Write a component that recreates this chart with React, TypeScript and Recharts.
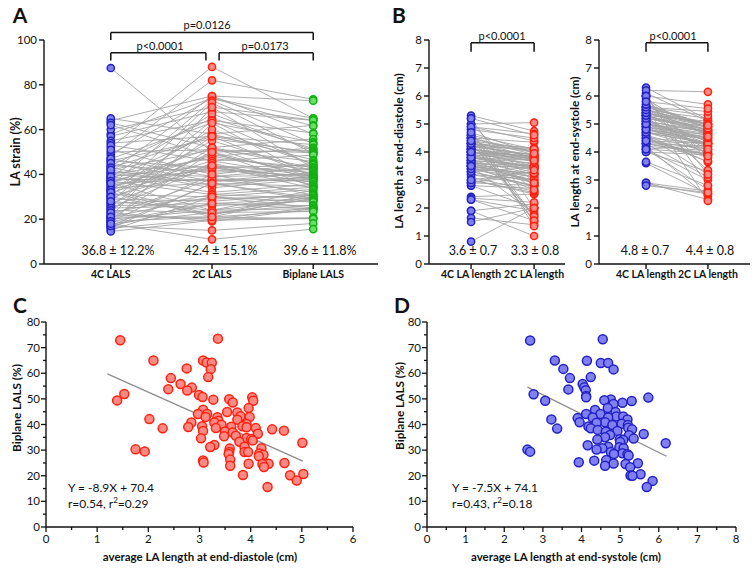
import React from "react";
import { ScatterChart, Scatter, XAxis, YAxis, ReferenceLine } from "recharts";

const FONT = "Lato, 'Open Sans', sans-serif";

// ---- Panel A: LA strain (%) per subject, 4C / 2C / biplane ----
const lalsLabels = ["4C LALS", "2C LALS", "Biplane LALS"];
const lals4C = [
  48, 64, 58, 52, 60, 57, 65, 49, 55, 41,
  63, 47, 35, 54, 62, 44, 39, 87.5, 46, 50,
  30, 43, 53, 38, 42, 51, 33, 46, 28, 40,
  36, 47, 21, 44, 37, 31, 45, 39, 34, 41,
  26, 37, 43, 33, 29, 40, 35, 18, 42, 32,
  38, 24, 36, 30, 39, 27, 34, 20, 37, 25,
  31, 36, 22, 29, 33, 19, 27, 32, 17, 26,
  30, 23, 28, 16, 25, 21, 24, 19, 22, 15,
  20, 23, 17, 21, 18, 16, 14.5, 19, 17, 18,
];
const lals2C = [
  82, 75, 74, 88, 70, 68, 58, 74, 64, 75,
  52, 63, 73, 57, 48, 65, 67, 50, 56, 51,
  72, 57, 46, 58, 51, 40, 60, 43, 64, 47,
  52, 39, 70, 41, 48, 55, 37, 44, 49, 39,
  57, 42, 35, 46, 50, 37, 43, 63, 34, 44,
  37, 52, 38, 43, 32, 45, 36, 50, 31, 44,
  30, 24, 38, 28, 22, 40, 29, 21, 36, 27,
  22, 31, 24, 36, 26, 30, 23, 27, 20, 30,
  24, 19, 27, 21, 23, 20, 19.5, 21, 15, 11,
];
// biplane LALS (also y of panel C)
const lalsBiplane = [
  73.5, 72.9, 65.0, 65.0, 64.2, 64.1, 61.9, 61.6, 58.5, 58.1,
  55.8, 54.4, 53.8, 53.3, 51.9, 51.5, 50.7, 50.6, 49.9, 49.7,
  49.4, 49.3, 48.6, 46.4, 45.8, 44.9, 44.7, 44.1, 44.1, 43.2,
  42.9, 42.9, 42.8, 42.1, 41.9, 41.5, 40.8, 40.8, 40.2, 39.9,
  39.3, 39.3, 39.1, 39.0, 38.9, 38.6, 38.6, 38.5, 38.1, 37.6,
  37.5, 37.3, 36.9, 36.4, 35.6, 35.4, 34.7, 34.6, 34.3, 33.8,
  33.3, 32.9, 32.0, 31.3, 31.2, 30.7, 30.6, 30.3, 29.5, 29.3,
  29.3, 29.3, 28.7, 28.5, 28.2, 27.6, 26.3, 26.0, 25.2, 25.0,
  24.7, 24.7, 24.6, 23.9, 23.4, 20.7, 20.3, 20.2, 18.1, 15.6,
];
const lalsMeans = ["36.8 ± 12.2%", "42.4 ± 15.1%", "39.6 ± 11.8%"];

// ---- Panel B: LA length (cm) ----
const lenLabels = ["4C LA length", "2C LA length"];
const ed4C = [
  3.5, 1.9, 2.3, 3.3, 3.0, 3.6, 2.8, 3.4, 2.9, 2.4,
  3.5, 3.1, 2.8, 3.0, 1.65, 3.2, 2.9, 4.2, 3.7, 3.5,
  0.8, 4.3, 3.9, 4.1, 3.3, 3.6, 4.0, 4.4, 3.4, 3.9,
  3.2, 4.3, 3.6, 1.9, 3.8, 3.3, 2.9, 3.5, 4.0, 3.7,
  4.6, 3.9, 3.8, 3.0, 4.1, 4.4, 3.4, 2.35, 4.5, 4.9,
  4.5, 3.6, 3.8, 4.3, 3.8, 3.5, 4.0, 4.3, 4.1, 4.2,
  4.0, 5.3, 3.7, 4.0, 4.7, 4.5, 3.7, 1.5, 2.3, 3.9,
  4.1, 4.1, 4.3, 3.8, 4.5, 4.2, 4.6, 4.8, 3.5, 4.8,
  5.0, 4.6, 4.3, 5.2, 4.4, 5.0, 4.0, 4.9, 5.2, 4.7,
];
const ed2C = [
  3.2, 1.0, 1.9, 2.8, 3.3, 2.9, 2.7, 3.0, 3.4, 2.5,
  1.8, 2.6, 2.0, 2.5, 1.4, 2.8, 3.2, 3.9, 3.5, 3.0,
  2.0, 3.8, 3.4, 3.8, 2.8, 3.5, 3.5, 1.55, 2.9, 3.7,
  3.0, 3.7, 3.1, 2.15, 3.7, 3.45, 2.8, 3.1, 3.85, 3.2,
  1.5, 3.8, 3.45, 2.55, 3.75, 3.8, 3.25, 2.2, 4.35, 4.4,
  1.65, 3.4, 3.5, 4.0, 3.6, 3.45, 3.85, 1.75, 3.9, 3.9,
  3.55, 4.75, 2.9, 3.75, 1.7, 3.9, 3.5, 2.0, 1.55, 3.25,
  3.65, 3.8, 4.05, 3.35, 4.0, 4.1, 2.6, 1.35, 2.65, 4.5,
  2.9, 4.1, 4.15, 2.0, 4.1, 5.05, 3.7, 4.65, 4.6, 3.95,
];
const edMeans = ["3.6 ± 0.7", "3.3 ± 0.8"];
const es4C = [
  4.8, 2.85, 4.2, 4.5, 4.7, 5.0, 4.1, 5.0, 4.4, 4.3,
  4.1, 4.5, 4.0, 4.3, 2.9, 4.6, 4.2, 6.3, 5.1, 4.9,
  3.6, 5.6, 5.2, 5.3, 4.8, 4.4, 5.0, 4.7, 4.3, 5.1,
  5.4, 4.6, 4.9, 4.6, 3.65, 5.4, 4.0, 4.7, 4.5, 5.2,
  5.0, 5.5, 4.1, 5.3, 4.3, 4.1, 5.6, 4.9, 5.1, 4.8,
  6.1, 4.9, 5.5, 5.0, 5.5, 5.3, 4.7, 5.5, 5.2, 6.2,
  4.4, 5.1, 5.3, 4.8, 5.4, 6.0, 2.9, 2.8, 5.0, 5.3,
  6.0, 5.4, 5.9, 5.2, 5.3, 5.6, 5.6, 5.8, 5.4, 6.0,
  5.5, 5.6, 5.7, 5.7, 6.0, 5.8,
];
const es2C = [
  4.3, 2.5, 2.4, 3.8, 4.3, 4.4, 3.0, 4.65, 4.1, 3.1,
  3.95, 3.65, 3.3, 3.9, 2.6, 3.65, 4.05, 5.15, 4.4, 4.3,
  2.5, 5.0, 4.9, 4.35, 4.55, 4.3, 4.75, 4.3, 3.95, 4.7,
  4.75, 4.0, 4.5, 3.2, 2.8, 5.0, 3.9, 4.5, 4.3, 4.9,
  4.6, 4.9, 4.25, 5.1, 4.2, 2.65, 5.0, 3.95, 4.75, 4.45,
  5.1, 4.6, 4.95, 4.2, 5.2, 4.7, 4.1, 4.65, 4.8, 6.15,
  3.9, 4.3, 4.65, 4.3, 4.8, 2.8, 2.3, 2.55, 4.5, 4.8,
  3.7, 5.0, 4.55, 4.1, 3.35, 2.25, 5.3, 3.85, 4.9, 3.2,
  5.0, 5.45, 4.85, 4.95, 5.7, 5.55,
];
const esMeans = ["4.8 ± 0.7", "4.4 ± 0.8"];

// ---- Panel C: average ED length vs biplane LALS ----
const edAvg = [
  3.36, 1.45, 2.10, 3.07, 3.14, 3.24, 2.75, 3.22, 3.17, 2.44,
  2.63, 2.85, 2.39, 2.76, 1.53, 2.99, 3.06, 4.03, 3.58, 3.27,
  1.39, 4.05, 3.65, 3.96, 3.07, 3.54, 3.74, 2.97, 3.15, 3.80,
  3.12, 3.98, 3.35, 2.02, 3.74, 3.37, 2.84, 3.29, 3.92, 3.43,
  3.05, 3.84, 3.62, 2.78, 3.92, 4.10, 3.32, 2.28, 4.42, 4.65,
  3.07, 3.50, 3.65, 4.14, 3.71, 3.48, 3.92, 3.03, 4.01, 4.04,
  3.78, 5.01, 3.29, 3.88, 3.21, 4.21, 3.59, 1.75, 1.93, 3.58,
  3.88, 3.95, 4.17, 3.57, 4.25, 4.16, 3.60, 3.07, 3.08, 4.66,
  3.96, 4.35, 4.23, 3.60, 4.26, 5.03, 3.85, 4.77, 4.90, 4.33,
];
const fitC = { slope: -8.9, intercept: 70.4, from: 1.2, to: 5.02 };

// ---- Panel D: average ES length vs biplane LALS ----
const esAvg = [
  4.55, 2.67, 3.31, 4.14, 4.50, 4.69, 3.53, 4.83, 4.24, 3.70,
  4.03, 4.07, 3.66, 4.11, 2.76, 4.12, 4.12, 5.73, 4.76, 4.59,
  3.06, 5.30, 5.06, 4.83, 4.68, 4.35, 4.88, 4.49, 4.12, 4.90,
  5.08, 4.29, 4.69, 3.90, 3.22, 5.19, 3.95, 4.61, 4.39, 5.04,
  4.80, 5.20, 4.18, 5.21, 4.24, 3.37, 5.31, 4.42, 4.93, 4.63,
  5.61, 4.74, 5.23, 4.61, 5.35, 4.99, 4.41, 5.08, 5.00, 6.18,
  4.16, 4.69, 4.98, 4.54, 5.09, 4.39, 2.60, 2.67, 4.76, 5.06,
  4.84, 5.19, 5.22, 4.64, 4.33, 3.93, 5.46, 4.83, 5.14, 4.61,
  5.26, 5.53, 5.27, 5.32, 5.84, 5.69,
];
const esBiplane = [
  73.3, 72.8, 65.0, 64.9, 64.0, 64.0, 61.7, 61.5, 58.5, 58.1,
  55.8, 54.5, 53.7, 53.4, 51.8, 51.1, 50.6, 50.5, 49.8, 49.5,
  49.3, 49.2, 48.5, 48.0, 46.4, 45.7, 44.9, 44.1, 44.1, 43.1,
  43.1, 42.7, 42.7, 42.5, 42.0, 42.0, 40.9, 40.9, 40.7, 40.3,
  39.8, 39.8, 39.2, 38.7, 38.5, 38.4, 38.1, 37.9, 37.5, 37.2,
  36.3, 35.9, 35.8, 35.0, 34.5, 34.2, 34.1, 34.0, 33.2, 32.7,
  31.9, 31.3, 31.1, 30.7, 30.7, 30.2, 30.2, 29.4, 29.3, 28.8,
  28.5, 28.4, 27.9, 26.1, 25.9, 25.3, 24.9, 24.8, 24.6, 23.9,
  23.3, 20.6, 20.1, 20.0, 18.0, 15.6,
];
const fitD = { slope: -7.5, intercept: 74.1, from: 2.6, to: 6.2 };

const BLUE = { fill: "#8080f2", stroke: "#2222c4" };
const RED = { fill: "#ff8a84", stroke: "#ff2010" };
const GREEN = { fill: "#66e066", stroke: "#0fb20f" };
const LINE_GRAY = "#a4a4a4";

type Bracket = { x1: number; x2: number; y: number; leg: number };

function Txt({ x, y, children, size = 12, bold = false, rotate = false, anchor = "center" }: any) {
  const tx = anchor === "left" ? "0" : "-50%";
  return (
    <div
      style={{
        position: "absolute",
        left: x,
        top: y,
        transform: `translate(${tx},-50%)${rotate ? " rotate(-90deg)" : ""}`,
        transformOrigin: rotate ? "center" : undefined,
        fontFamily: FONT,
        fontSize: size,
        fontWeight: bold ? 700 : 400,
        color: "#111",
        whiteSpace: "nowrap",
        lineHeight: 1,
      }}
    >
      {children}
    </div>
  );
}

function dotShape(c: { fill: string; stroke: string }, r: number) {
  return (p: any) => <circle cx={p.cx} cy={p.cy} r={r} fill={c.fill} stroke={c.stroke} strokeWidth={1.5} />;
}

const hidden = () => <g />;

function PairedChart({ width, height, margin, yWidth, xDomain, yMax, yTicks, labels, columns, colors, brackets }: any) {
  const n = columns[0].length;
  const subjects = Array.from({ length: n }, (_, i) =>
    columns.map((col: number[], k: number) => ({ x: k, y: col[i] }))
  );
  return (
    <ScatterChart width={width} height={height} margin={margin}>
      <XAxis
        type="number"
        dataKey="x"
        domain={xDomain}
        ticks={labels.map((_: string, i: number) => i)}
        tickFormatter={(v: number) => labels[v]}
        interval={0}
        allowDataOverflow
        height={26}
        stroke="#111"
        strokeWidth={1.4}
        tickSize={5}
        tick={{ fontSize: 10.5, fontWeight: 700, fill: "#111", fontFamily: FONT }}
      />
      <YAxis
        type="number"
        dataKey="y"
        domain={[0, yMax]}
        ticks={yTicks}
        interval={0}
        allowDataOverflow
        width={yWidth}
        stroke="#111"
        strokeWidth={1.4}
        tickSize={5}
        tick={{ fontSize: 11.5, fill: "#111", fontFamily: FONT }}
      />
      {subjects.map((d: any, i: number) => (
        <Scatter
          key={`s${i}`}
          data={d}
          fill={LINE_GRAY}
          line={{ stroke: LINE_GRAY, strokeWidth: 0.9 }}
          shape={hidden}
          isAnimationActive={false}
        />
      ))}
      {columns.map((col: number[], k: number) => (
        <Scatter
          key={`c${k}`}
          data={col.map((v) => ({ x: k, y: v }))}
          fill={colors[k].fill}
          shape={dotShape(colors[k], 3.6)}
          isAnimationActive={false}
        />
      ))}
      {brackets.map((b: Bracket, i: number) => (
        <React.Fragment key={`b${i}`}>
          <ReferenceLine segment={[{ x: b.x1, y: b.y }, { x: b.x2, y: b.y }]} stroke="#111" strokeWidth={1.5} ifOverflow="visible" />
          <ReferenceLine segment={[{ x: b.x1, y: b.y }, { x: b.x1, y: b.leg }]} stroke="#111" strokeWidth={1.5} ifOverflow="visible" />
          <ReferenceLine segment={[{ x: b.x2, y: b.y }, { x: b.x2, y: b.leg }]} stroke="#111" strokeWidth={1.5} ifOverflow="visible" />
        </React.Fragment>
      ))}
    </ScatterChart>
  );
}

function MinorTickX(props: any) {
  const { x, y, payload } = props;
  const major = Math.abs(payload.value % 1) < 1e-9;
  return (
    <g>
      <line x1={x} x2={x} y1={y} y2={y + (major ? 5 : 3)} stroke="#111" strokeWidth={1.3} />
      {major && (
        <text x={x} y={y + 7} dy="0.8em" textAnchor="middle" fontSize={11.5} fill="#111" fontFamily={FONT}>
          {payload.value}
        </text>
      )}
    </g>
  );
}

function MinorTickY(props: any) {
  const { x, y, payload } = props;
  const major = payload.value % 10 === 0;
  return (
    <g>
      <line x1={x - (major ? 5 : 3)} x2={x} y1={y} y2={y} stroke="#111" strokeWidth={1.3} />
      {major && (
        <text x={x - 6} y={y} dy="0.35em" textAnchor="end" fontSize={11.5} fill="#111" fontFamily={FONT}>
          {payload.value}
        </text>
      )}
    </g>
  );
}

function RegressionChart({ width, height, margin, xs, ys, xMax, xTicks, colors, fit }: any) {
  const data = xs.map((x: number, i: number) => ({ x, y: ys[i] }));
  const yTicks = Array.from({ length: 17 }, (_, i) => i * 5);
  return (
    <ScatterChart width={width} height={height} margin={margin}>
      <XAxis
        type="number"
        dataKey="x"
        domain={[0, xMax]}
        ticks={xTicks}
        interval={0}
        allowDataOverflow
        height={20}
        stroke="#111"
        strokeWidth={1.4}
        tickSize={0}
        tickMargin={0}
        tickLine={false}
        tick={<MinorTickX />}
      />
      <YAxis
        type="number"
        dataKey="y"
        domain={[0, 80]}
        ticks={yTicks}
        interval={0}
        allowDataOverflow
        width={30}
        stroke="#111"
        strokeWidth={1.4}
        tickSize={0}
        tickMargin={0}
        tickLine={false}
        tick={<MinorTickY />}
      />
      <ReferenceLine
        segment={[
          { x: fit.from, y: fit.slope * fit.from + fit.intercept },
          { x: fit.to, y: fit.slope * fit.to + fit.intercept },
        ]}
        stroke="#8c8c8c"
        strokeWidth={1.3}
      />
      <Scatter data={data} fill={colors.fill} shape={dotShape(colors, 4.5)} isAnimationActive={false} />
    </ScatterChart>
  );
}

const halfTicks = (max: number) => Array.from({ length: max * 2 + 1 }, (_, i) => i / 2);

export default function App() {
  return (
    <div style={{ position: "absolute", left: 0, top: 0, width: 755, height: 568, background: "#fff", overflow: "hidden" }}>
      {/* Panel A */}
      <div style={{ position: "absolute", left: 0, top: 0 }}>
        <PairedChart
          width={385}
          height={290}
          margin={{ top: 40, right: 7, bottom: 0, left: 10 }}
          yWidth={34}
          xDomain={[-0.66, 2.64]}
          yMax={100}
          yTicks={[0, 20, 40, 60, 80, 100]}
          labels={lalsLabels}
          columns={[lals4C, lals2C, lalsBiplane]}
          colors={[BLUE, RED, GREEN]}
          brackets={[
            { x1: 0, x2: 2, y: 103.4, leg: 100 },
            { x1: 0, x2: 0.94, y: 94.3, leg: 90.8 },
            { x1: 1.07, x2: 2, y: 94.3, leg: 90.8 },
          ]}
        />
      </div>
      {/* Panel B left */}
      <div style={{ position: "absolute", left: 385, top: 0 }}>
        <PairedChart
          width={185}
          height={290}
          margin={{ top: 40, right: 5, bottom: 0, left: 16 }}
          yWidth={28}
          xDomain={[-0.667, 1.49]}
          yMax={8}
          yTicks={[0, 1, 2, 3, 4, 5, 6, 7, 8]}
          labels={lenLabels}
          columns={[ed4C, ed2C]}
          colors={[BLUE, RED]}
          brackets={[{ x1: 0, x2: 1, y: 7.9, leg: 7.58 }]}
        />
      </div>
      {/* Panel B right */}
      <div style={{ position: "absolute", left: 570, top: 0 }}>
        <PairedChart
          width={185}
          height={290}
          margin={{ top: 40, right: 5, bottom: 0, left: 9 }}
          yWidth={20}
          xDomain={[-0.76, 1.68]}
          yMax={8}
          yTicks={[0, 1, 2, 3, 4, 5, 6, 7, 8]}
          labels={lenLabels}
          columns={[es4C, es2C]}
          colors={[BLUE, RED]}
          brackets={[{ x1: 0, x2: 1, y: 7.9, leg: 7.58 }]}
        />
      </div>
      {/* Panel C */}
      <div style={{ position: "absolute", left: 0, top: 295 }}>
        <RegressionChart
          width={380}
          height={273}
          margin={{ top: 27, right: 27, bottom: 21, left: 16 }}
          xs={edAvg}
          ys={lalsBiplane}
          xMax={6}
          xTicks={halfTicks(6)}
          colors={RED}
          fit={fitC}
        />
      </div>
      {/* Panel D */}
      <div style={{ position: "absolute", left: 380, top: 295 }}>
        <RegressionChart
          width={375}
          height={273}
          margin={{ top: 27, right: 19, bottom: 21, left: 17 }}
          xs={esAvg}
          ys={esBiplane}
          xMax={8}
          xTicks={halfTicks(8)}
          colors={BLUE}
          fit={fitD}
        />
      </div>

      {/* panel letters */}
      <Txt x={20} y={14} size={21} bold>A</Txt>
      <Txt x={399} y={14} size={21} bold>B</Txt>
      <Txt x={20} y={304} size={21} bold>C</Txt>
      <Txt x={402} y={304} size={21} bold>D</Txt>

      {/* axis titles */}
      <Txt x={16} y={152} size={12.5} bold rotate>LA strain (%)</Txt>
      <Txt x={399} y={151} size={11.8} bold rotate>LA length at end-diastole (cm)</Txt>
      <Txt x={575} y={152} size={11.8} bold rotate>LA length at end-systole (cm)</Txt>
      <Txt x={17} y={408} size={11.8} bold rotate>Biplane LALS (%)</Txt>
      <Txt x={400} y={406} size={11.8} bold rotate>Biplane LALS (%)</Txt>
      <Txt x={200} y={557} size={11.5} bold>average LA length at end-diastole (cm)</Txt>
      <Txt x={566} y={557} size={11.5} bold>average LA length at end-systole (cm)</Txt>

      {/* p values */}
      <Txt x={207} y={24} size={11}>p=0.0126</Txt>
      <Txt x={160} y={45} size={11}>p&lt;0.0001</Txt>
      <Txt x={265} y={45} size={11}>p=0.0173</Txt>
      <Txt x={502} y={35} size={11}>p&lt;0.0001</Txt>
      <Txt x={673} y={35} size={11}>p&lt;0.0001</Txt>

      {/* mean ± SD */}
      <Txt x={118} y={251} size={12.5}>{lalsMeans[0]}</Txt>
      <Txt x={221} y={251} size={12.5}>{lalsMeans[1]}</Txt>
      <Txt x={320} y={251} size={12.5}>{lalsMeans[2]}</Txt>
      <Txt x={473} y={251} size={12.5}>{edMeans[0]}</Txt>
      <Txt x={535} y={251} size={12.5}>{edMeans[1]}</Txt>
      <Txt x={645} y={251} size={12.5}>{esMeans[0]}</Txt>
      <Txt x={710} y={251} size={12.5}>{esMeans[1]}</Txt>

      {/* regression annotations */}
      <Txt x={68} y={488} size={12} anchor="left">Y = -8.9X + 70.4</Txt>
      <Txt x={68} y={503} size={12} anchor="left">r=0.54, r<sup style={{ fontSize: 8 }}>2</sup>=0.29</Txt>
      <Txt x={452} y={488} size={12} anchor="left">Y = -7.5X + 74.1</Txt>
      <Txt x={452} y={503} size={12} anchor="left">r=0.43, r<sup style={{ fontSize: 8 }}>2</sup>=0.18</Txt>
    </div>
  );
}
